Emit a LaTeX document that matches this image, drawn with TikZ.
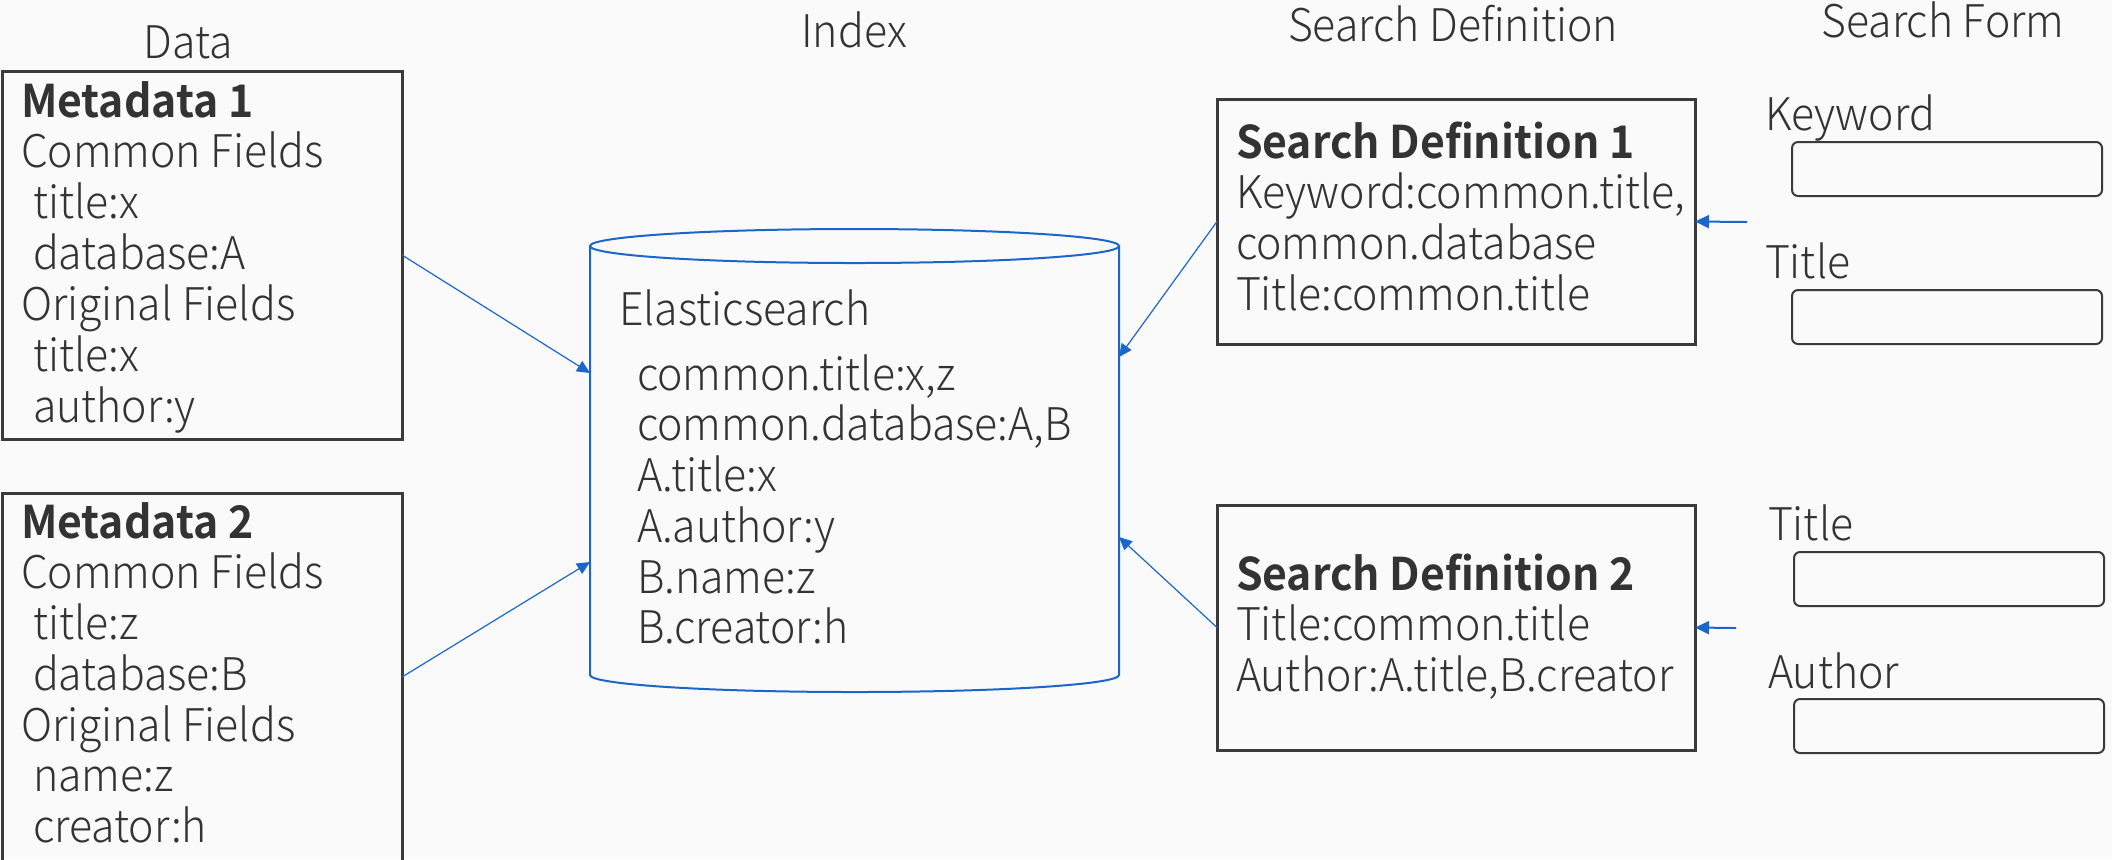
\documentclass[tikz,border=0pt]{standalone}
\usepackage{fontspec}
\setmainfont{Noto Sans CJK JP}[UprightFont={* Light},BoldFont={* Bold},FakeStretch=0.95]
\usetikzlibrary{arrows.meta}
\definecolor{bg}{HTML}{FAFAFA}
\definecolor{txt}{HTML}{333333}
\definecolor{bl}{HTML}{1B66CA}
\definecolor{bx}{HTML}{3A3A3A}
\newcommand\ind{\hspace*{6pt}}
\newcommand\lns[2]{{\fontsize{22.5}{#1}\selectfont\begin{tabular}[t]{@{}l@{}}#2\end{tabular}}}
\begin{document}
\begin{tikzpicture}[x=0.5pt,y=-0.5pt,
  every node/.style={text=txt,font=\fontsize{22.5}{25}\selectfont},
  txtnode/.style={inner sep=0pt,outer sep=0pt,anchor=base west},
  head/.style={inner sep=0pt,anchor=base},
  databox/.style={draw=bx,line width=1.5pt,inner sep=0pt,outer sep=0pt,anchor=north west,minimum width=200pt,minimum height=184pt},
  defbox/.style={draw=bx,line width=1.5pt,inner sep=0pt,outer sep=0pt,anchor=north west,minimum width=239pt,minimum height=122.5pt},
  formbox/.style={draw=bx,line width=1pt,rounded corners=3pt,inner sep=0pt,anchor=north west,minimum width=155pt,minimum height=27pt},
  cyl/.style={draw=bl,line width=1pt},
  arr/.style={bl,line width=0.6pt,-{Triangle[length=6.5pt,width=6pt]}},
  farr/.style={bl,line width=1pt,-{Triangle[length=7pt,width=6.5pt]}}]
\fill[bg] (0,0) rectangle (2112,859);
\useasboundingbox (0,0) rectangle (2112,859);
\clip (0,0) rectangle (2112,859);
% headers
\node[head] (hdata) at (188,58) {Data};
\node[head] (hidx) at (854,47) {Index};
\node[head] (hdef) at (1453,41) {Search Definition};
\node[head] (hform) at (1943,37) {Search Form};
% data boxes
\node[databox] (m1) at (2,71) {};
\node[databox] (m2) at (2,493) {};
\node[txtnode] (m1t) at (21,117) {\lns{25.25}{\textbf{Metadata 1}\\Common Fields\\\ind title:x\\\ind database:A\\Original Fields\\\ind title:x\\\ind author:y}};
\node[txtnode] (m2t) at (21,538) {\lns{25.15}{\textbf{Metadata 2}\\Common Fields\\\ind title:z\\\ind database:B\\Original Fields\\\ind name:z\\\ind creator:h}};
% index cylinder
\draw[cyl] (590,246) -- (590,675) arc[start angle=180,end angle=0,x radius=264.5,y radius=17] -- (1119,246);
\draw[cyl] (854.5,246) ellipse[x radius=264.5,y radius=17];
\node[inner sep=0pt,outer sep=0pt,minimum width=264.5pt,minimum height=214.5pt] (idx) at (854.5,460.5) {};
\node[txtnode] (es) at (619,325) {Elasticsearch};
\node[txtnode] (est) at (637,390) {\lns{25.2}{common.title:x,z\\common.database:A,B\\A.title:x\\A.author:y\\B.name:z\\B.creator:h}};
\coordinate (iL1) at (590,373);
\coordinate (iL2) at (590,562);
\coordinate (iR1) at (1119,357);
\coordinate (iR2) at (1119,537);
% search definitions
\node[defbox] (sd1) at (1217,99) {};
\node[defbox] (sd2) at (1217,505) {};
\node[txtnode] (sd1t) at (1236,158) {\lns{25.35}{\textbf{Search Definition 1}\\Keyword:common.title,\\common.database\\Title:common.title}};
\node[txtnode] (sd2t) at (1236,590) {\lns{25}{\textbf{Search Definition 2}\\Title:common.title\\Author:A.title,B.creator}};
% search forms
\node[txtnode] (lk) at (1765,130) {Keyword};
\node[formbox] (fk) at (1791,141) {};
\node[txtnode] (lt1) at (1765,278) {Title};
\node[formbox] (ft1) at (1791,289) {};
\node[txtnode] (lt2) at (1768,540) {Title};
\node[formbox] (ft2) at (1793,551) {};
\node[txtnode] (la) at (1768,688) {Author};
\node[formbox] (fa) at (1793,698) {};
\coordinate (f1) at (1747,222);
\coordinate (f2) at (1736,628);
% connectors
\draw[arr] (m1.east) -- (iL1);
\draw[arr] (m2.east) -- (iL2);
\draw[arr] (sd1.west) -- (iR1);
\draw[arr] (sd2.west) -- (iR2);
\draw[farr] (f1) -- (sd1.east);
\draw[farr] (f2) -- (sd2.east);
\end{tikzpicture}
\end{document}
